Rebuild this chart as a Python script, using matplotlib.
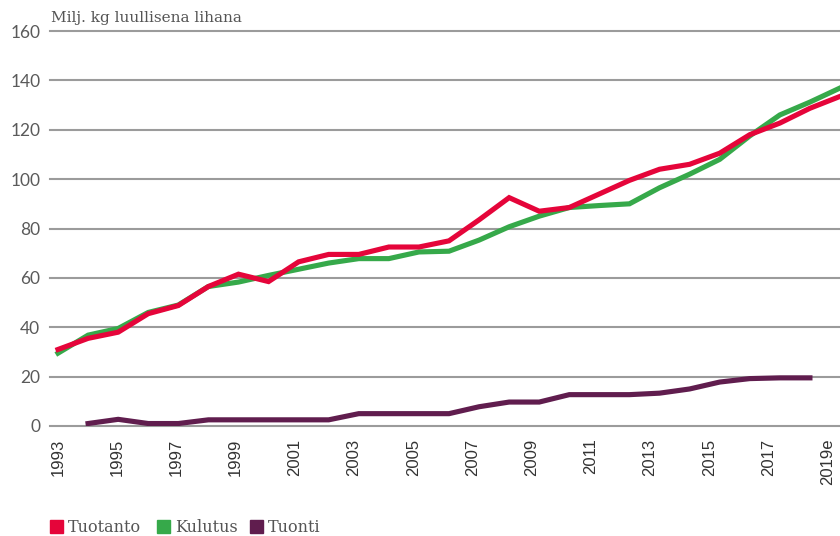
import numpy as np
import matplotlib
matplotlib.use("Agg")
import matplotlib.pyplot as plt
from matplotlib.patches import Rectangle

# data
years = np.arange(1993, 2020)
tuotanto = [31, 35.5, 38, 45.5, 48.8, 56.5, 61.5, 58.5, 66.5, 69.5, 69.5, 72.5, 72.5, 75,
            83.5, 92.5, 87, 88.5, 94, 99.5, 104, 106, 110.5, 118, 122.7, 128.7, 133.5]
kulutus = [29.5, 36.8, 39.5, 46, 49, 56.5, 58.3, 61, 63.5, 66, 67.8, 67.8, 70.5, 70.8,
           75.3, 80.7, 85, 88.5, 89.3, 90, 96.5, 102, 108, 117.5, 126, 131.2, 136.9]
tuonti_years = np.arange(1994, 2019)
tuonti = [1, 2.7, 1, 1, 2.5, 2.5, 2.5, 2.5, 2.5, 5, 5, 5, 5, 7.8, 9.7, 9.7, 12.7, 12.7, 12.7,
          13.3, 15, 17.8, 19.2, 19.5, 19.5]
tick_years = list(range(1993, 2020, 2))
tick_labels = [str(y) for y in tick_years[:-1]] + ["2019e"]
yticks = list(range(0, 161, 20))

c_red = "#E5053A"
c_green = "#36A94A"
c_purple = "#601D4E"
c_grid = "#9B9B9B"
c_text = "#555555"

fig = plt.figure(figsize=(8.4, 5.36), dpi=100)
ax = fig.add_axes([50 / 840, (536 - 426) / 536, 790 / 840, 395 / 536])

for y in yticks:
    ax.axhline(y, color=c_grid, lw=1.5, zorder=1, clip_on=False)

lw = 3.7
ax.plot(years, kulutus, color=c_green, lw=lw, zorder=3, solid_joinstyle="miter")
ax.plot(years, tuotanto, color=c_red, lw=lw, zorder=4, solid_joinstyle="miter")
ax.plot(tuonti_years, tuonti, color=c_purple, lw=lw, zorder=3, solid_joinstyle="miter")

ax.set_xlim(1993 - 8 / 30.08, 2019)
ax.set_ylim(0, 160)
for s in ax.spines.values():
    s.set_visible(False)

# labels in the original sit a little tighter than the data points
tick_pos = [1993 + (y - 1993) * 29.6 / 30.08 for y in tick_years]
ax.set_xticks(tick_pos)
ax.set_xticklabels(tick_labels, rotation=90, fontsize=12, color="#333333",
                   family="Liberation Sans", va="top")
ax.set_yticks(yticks)
ax.set_yticklabels([str(y) for y in yticks], fontsize=12.5, color="#5a5a5a",
                   family="Lato")
ax.tick_params(axis="both", length=0)
ax.tick_params(axis="x", pad=9)
ax.tick_params(axis="y", pad=7)

fig.text(51 / 840, 1 - 22 / 536, "Milj. kg luullisena lihana", fontsize=11,
         color=c_text, family="DejaVu Serif", va="baseline")

# legend
legend_items = [("Tuotanto", c_red, 50), ("Kulutus", c_green, 157), ("Tuonti", c_purple, 250)]
for name, col, x0 in legend_items:
    fig.patches.append(Rectangle((x0 / 840, 1 - 533 / 536), 13 / 840, 13 / 536,
                                 transform=fig.transFigure, color=col))
    fig.text((x0 + 18) / 840, 1 - 527 / 536, name, fontsize=11.5, color=c_text,
             family="DejaVu Serif", va="center")

fig.savefig("out.png", dpi=100)
